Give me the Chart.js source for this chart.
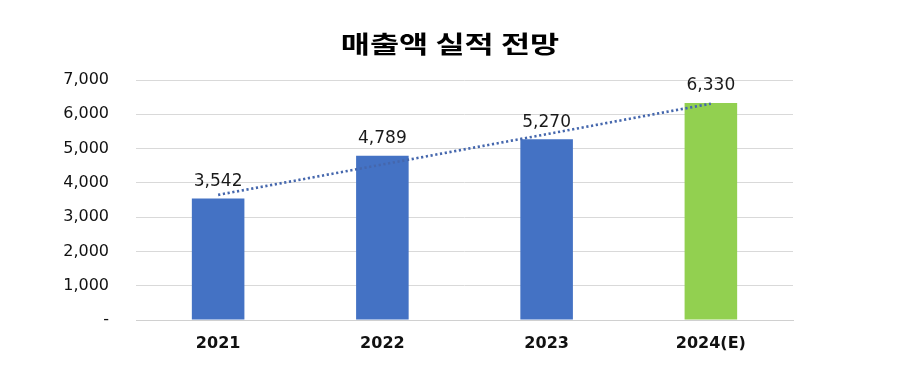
<!DOCTYPE html>
<html>
<head>
<meta charset="utf-8">
<script src="https://cdn.jsdelivr.net/npm/chart.js@4"></script>
<style>
  html, body { margin: 0; padding: 0; background: #fff; }
  #wrap { width: 898px; height: 370px; }
</style>
</head>
<body>
<div id="wrap"><canvas id="chart" width="898" height="370"></canvas></div>
<script>
// chart data
let years = ['2021', '2022', '2023', '2024(E)'];
let sales = [3542, 4789, 5270, 6330];
let barColors = ['#4472C4', '#4472C4', '#4472C4', '#92D050'];
// linear trend line
let trend = [3650, 4535, 5420, 6310];
let yTicks = [0, 1000, 2000, 3000, 4000, 5000, 6000, 7000];
let titleText = '매출액 실적 전망';

// title is drawn over the whole canvas, a bit wider like the source image
let wideTitle = {
    id: 'wideTitle',
    afterDraw: function(chart) {
        let ctx = chart.ctx;
        ctx.save();
        ctx.font = 'bold 24px "Noto Sans CJK KR"';
        ctx.fillStyle = '#000';
        ctx.textAlign = 'center';
        ctx.textBaseline = 'middle';
        ctx.translate(450, 44);
        ctx.scale(1.32, 1);
        ctx.fillText(titleText, 0, 0);
        ctx.restore();
    }
};

let barLabels = {
    id: 'barLabels',
    afterDatasetsDraw: function(chart) {
        let ctx = chart.ctx;
        let meta = chart.getDatasetMeta(1);
        ctx.save();
        ctx.font = '17px "DejaVu Sans"';
        ctx.fillStyle = '#1a1a1a';
        ctx.textAlign = 'center';
        ctx.textBaseline = 'middle';
        meta.data.forEach(function(bar, i) {
            ctx.fillText(sales[i].toLocaleString('en-US'), bar.x, bar.y - 17);
        });
        ctx.restore();
    }
};

new Chart(document.getElementById('chart'), {
    data: {
        labels: years,
        datasets: [{
            type: 'line',
            data: trend,
            borderColor: '#4567ad',
            borderWidth: 2.6,
            borderDash: [2.2, 2.6],
            pointRadius: 0,
            fill: false,
            order: 0
        }, {
            type: 'bar',
            data: sales,
            backgroundColor: barColors,
            categoryPercentage: 1,
            barPercentage: 0.32,
            order: 1
        }]
    },
    options: {
        responsive: false,
        animation: false,
        layout: { padding: { left: 0, right: 105, top: 80, bottom: 0 } },
        plugins: {
            legend: { display: false },
            tooltip: { enabled: false },
            title: { display: false }
        },
        scales: {
            x: {
                grid: { display: false, drawTicks: false },
                border: { color: '#d0d0d0', width: 1 },
                ticks: {
                    color: '#111',
                    padding: 14,
                    font: { family: '"DejaVu Sans"', size: 16, weight: 'bold' }
                },
                afterFit: function(axis) { axis.height = 50; }
            },
            y: {
                min: 0,
                max: 7000,
                afterBuildTicks: function(axis) {
                    axis.ticks = yTicks.map(function(v) { return { value: v }; });
                },
                grid: { color: '#d9d9d9', drawTicks: false },
                border: { display: false },
                ticks: {
                    color: '#111',
                    padding: 27,
                    font: { family: '"DejaVu Sans"', size: 16 },
                    callback: function(v) { return v === 0 ? '-' : v.toLocaleString('en-US'); }
                },
                afterFit: function(axis) { axis.width = 136; }
            }
        }
    },
    plugins: [barLabels, wideTitle]
});
</script>
</body>
</html>
